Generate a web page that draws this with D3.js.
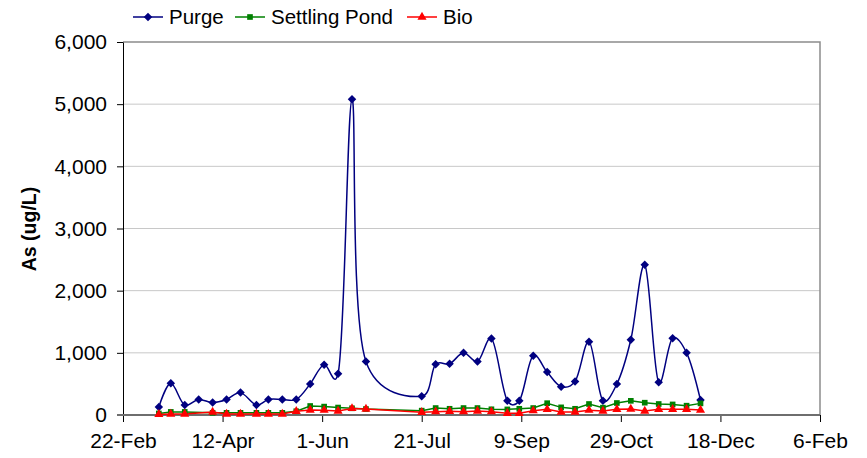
<!DOCTYPE html>
<html>
<head>
<meta charset="utf-8">
<script src="https://cdn.jsdelivr.net/npm/d3@7"></script>
<style>
  body { margin: 0; background: #fff; }
  svg { font-family: "Liberation Sans", Arial, sans-serif; }
</style>
</head>
<body>
<div id="chart"></div>
<script>
// sample dates (weekly-ish)
const DATES = [
  "2008-03-11", "2008-03-17", "2008-03-24", "2008-03-31", "2008-04-07", "2008-04-14",
  "2008-04-21", "2008-04-29", "2008-05-05", "2008-05-12", "2008-05-19", "2008-05-26",
  "2008-06-02", "2008-06-09", "2008-06-16", "2008-06-23", "2008-07-21", "2008-07-28",
  "2008-08-04", "2008-08-11", "2008-08-18", "2008-08-25", "2008-09-02", "2008-09-08",
  "2008-09-15", "2008-09-22", "2008-09-29", "2008-10-06", "2008-10-13", "2008-10-20",
  "2008-10-27", "2008-11-03", "2008-11-10", "2008-11-17", "2008-11-24", "2008-12-01",
  "2008-12-08"
]
const PURGE = [
  130, 510, 160, 250, 200, 250, 360, 160, 250, 250, 250, 500,
  810, 665, 5080, 860, 300, 815, 825, 1000, 860, 1230, 230, 230,
  955, 690, 455, 540, 1180, 230, 500, 1210, 2415, 525, 1235, 1000,
  240
]
const POND = [
  25, 50, 50, null, 35, 35, 35, 35, 35, 35, 60, 145,
  135, 120, 108, 96, 70, 112, 100, 112, 112, 92, 90, 100,
  112, 190, 123, 100, 177, 118, 193, 228, 198, 177, 170, 150,
  187
]
const BIO = [
  10, 16, 16, null, 48, 16, 16, 16, 16, 16, 60, 80,
  77, 64, 105, 95, 43, 53, 59, 53, 64, 53, 27, 27,
  70, 91, 48, 48, 77, 64, 91, 96, 64, 91, 91, 91,
  80
]
const SERIES_NAMES = ["Purge", "Settling Pond", "Bio"]
const Y_TICKS = [0, 1000, 2000, 3000, 4000, 5000, 6000]
const X_START = "2008-02-22"
const X_END = "2009-02-06"
const X_STEP_DAYS = 50

const WIDTH = 867
const HEIGHT = 458
const LEFT = 123
const RIGHT = 820
const TOP = 42
const BOTTOM = 415

const parse = d3.utcParse("%Y-%m-%d")
const start = parse(X_START)
const end = parse(X_END)

const xScale = d3.scaleUtc()
  .domain([start, end])
  .range([LEFT, RIGHT])

const yScale = d3.scaleLinear()
  .domain([0, 6000])
  .range([BOTTOM, TOP])

const xTicks = d3.range(0, 351, X_STEP_DAYS).map(d => d3.utcDay.offset(start, d))

const svg = d3.select("#chart")
  .append("svg")
  .attr("width", WIDTH)
  .attr("height", HEIGHT)

// gridlines
svg.append("g")
  .selectAll("line")
  .data(Y_TICKS.slice(1, -1))
  .enter()
  .append("line")
  .attr("x1", LEFT)
  .attr("x2", RIGHT)
  .attr("y1", d => yScale(d))
  .attr("y2", d => yScale(d))
  .attr("stroke", "#c8c8c8")
  .attr("stroke-width", 1)

// plot area border (top + right)
svg.append("path")
  .attr("d", `M${LEFT},${TOP}H${RIGHT}V${BOTTOM}`)
  .attr("fill", "none")
  .attr("stroke", "#8c8c8c")
  .attr("stroke-width", 1.5)

// y axis
const yAxis = d3.axisLeft(yScale)
  .tickValues(Y_TICKS)
  .tickFormat(d3.format(","))
  .tickSize(6)
  .tickSizeOuter(0)
  .tickPadding(10)

const gy = svg.append("g")
  .attr("transform", `translate(${LEFT},0)`)
  .call(yAxis)
gy.select(".domain").attr("stroke", "#000")
gy.selectAll(".tick line").attr("stroke", "#000")
gy.selectAll("text")
  .attr("font-size", 21)
  .attr("fill", "#000")
  .attr("font-family", "Liberation Sans, Arial, sans-serif")

// x axis
const xAxis = d3.axisBottom(xScale)
  .tickValues(xTicks)
  .tickFormat(d3.utcFormat("%-d-%b"))
  .tickSize(7)
  .tickSizeOuter(0)
  .tickPadding(11)

const gx = svg.append("g")
  .attr("transform", `translate(0,${BOTTOM})`)
  .call(xAxis)
gx.select(".domain").remove()
gx.selectAll(".tick line").attr("stroke", "#000")
gx.selectAll("text")
  .attr("font-size", 21)
  .attr("fill", "#000")
  .attr("font-family", "Liberation Sans, Arial, sans-serif")

// x axis line sits on the zero value, a bit heavier and gray
svg.append("line")
  .attr("x1", LEFT - 6)
  .attr("x2", RIGHT)
  .attr("y1", yScale(0))
  .attr("y2", yScale(0))
  .attr("stroke", "#6e6e6e")
  .attr("stroke-width", 2)

// y axis title
svg.append("text")
  .attr("transform", `translate(36,229) rotate(-90)`)
  .attr("text-anchor", "middle")
  .attr("font-size", 19.5)
  .attr("font-weight", "bold")
  .text("As (ug/L)")

const toPoints = (vals) => DATES
  .map((d, i) => ({ date: parse(d), v: vals[i] }))
  .filter(p => p.v !== null)

const purgePts = toPoints(PURGE)
const pondPts = toPoints(POND)
const bioPts = toPoints(BIO)

// somewhere between uniform and centripetal looks closest to excel smoothing
const smoothLine = d3.line()
  .x(d => xScale(d.date))
  .y(d => yScale(d.v))
  .curve(d3.curveCatmullRom.alpha(0.2))

const straightLine = d3.line()
  .x(d => xScale(d.date))
  .y(d => yScale(d.v))

const diamond = d3.symbol().type(d3.symbolDiamond2).size(46)
const square = d3.symbol().type(d3.symbolSquare).size(32)
const triangle = d3.symbol().type(d3.symbolTriangle).size(36)

// Purge
svg.append("path")
  .datum(purgePts)
  .attr("d", smoothLine)
  .attr("fill", "none")
  .attr("stroke", "#000080")
  .attr("stroke-width", 1.5)

// Settling Pond
svg.append("path")
  .datum(pondPts)
  .attr("d", straightLine)
  .attr("fill", "none")
  .attr("stroke", "#008000")
  .attr("stroke-width", 1.5)

// Bio
svg.append("path")
  .datum(bioPts)
  .attr("d", straightLine)
  .attr("fill", "none")
  .attr("stroke", "#ff0000")
  .attr("stroke-width", 1.5)

svg.append("g").selectAll("path")
  .data(purgePts)
  .enter()
  .append("path")
  .attr("d", diamond)
  .attr("transform", d => `translate(${xScale(d.date)},${yScale(d.v)})`)
  .attr("fill", "#000080")

svg.append("g").selectAll("path")
  .data(pondPts)
  .enter()
  .append("path")
  .attr("d", square)
  .attr("transform", d => `translate(${xScale(d.date)},${yScale(d.v)})`)
  .attr("fill", "#008000")

svg.append("g").selectAll("path")
  .data(bioPts)
  .enter()
  .append("path")
  .attr("d", triangle)
  .attr("transform", d => `translate(${xScale(d.date)},${yScale(d.v)})`)
  .attr("fill", "#ff0000")

// legend
const legendItems = [
  { name: SERIES_NAMES[0], color: "#000080", sym: diamond, x: 133 },
  { name: SERIES_NAMES[1], color: "#008000", sym: square, x: 235 },
  { name: SERIES_NAMES[2], color: "#ff0000", sym: triangle, x: 407 }
]
const lg = svg.append("g").selectAll("g")
  .data(legendItems)
  .enter()
  .append("g")
  .attr("transform", d => `translate(${d.x},17)`)

lg.append("line")
  .attr("x1", 0)
  .attr("x2", 30)
  .attr("stroke", d => d.color)
  .attr("stroke-width", 1.5)
lg.append("path")
  .attr("d", d => d.sym())
  .attr("transform", "translate(15,0)")
  .attr("fill", d => d.color)
lg.append("text")
  .attr("x", 36)
  .attr("y", 7)
  .attr("font-size", 20.5)
  .text(d => d.name)
</script>
</body>
</html>
